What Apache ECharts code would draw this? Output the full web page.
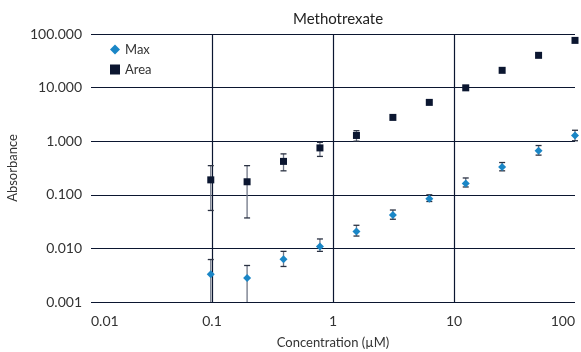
<!DOCTYPE html>
<html><head><meta charset="utf-8">
<script src="https://cdn.jsdelivr.net/npm/echarts@6/dist/echarts.min.js"></script>
<style>html,body{margin:0;padding:0;background:#fff}#c{width:581px;height:352px}</style>
</head><body><div id="c"></div>
<script>
const concentrations = [0.0977, 0.195, 0.39, 0.78, 1.5625, 3.125, 6.25, 12.5, 25, 50, 100];
const maxValues = [0.0033, 0.0028, 0.0063, 0.0108, 0.0207, 0.042, 0.0845, 0.163, 0.33, 0.66, 1.28];
const maxLow    = [0.001, 0.001, 0.0046, 0.0088, 0.017, 0.035, 0.075, 0.14, 0.28, 0.55, 1.02];
const maxHigh   = [0.0062, 0.0048, 0.0088, 0.015, 0.027, 0.052, 0.10, 0.206, 0.40, 0.83, 1.6];
const areaValues = [0.19, 0.175, 0.42, 0.75, 1.28, 2.78, 5.3, 9.9, 21, 40, 76];
const areaLow    = [0.051, 0.037, 0.28, 0.52, 1.0, null, null, null, null, null, null];
const areaHigh   = [0.35, 0.35, 0.58, 0.95, 1.57, null, null, null, null, null, null];
const xTicks = [0.01, 0.1, 1, 10, 100];
const yTicks = [0.001, 0.01, 0.1, 1, 10, 100];

const FONT = 'Lato';
const navy = '#0b1630';
const blue = '#1a86c6';

function errData(lo, hi) {
  const out = [];
  concentrations.forEach((c, i) => { if (lo[i] != null && hi[i] != null) out.push([c, lo[i], hi[i]]); });
  return out;
}
function renderErr(params, api) {
  const x = api.value(0), lo = api.value(1), hi = api.value(2);
  const pLo = api.coord([x, lo]), pHi = api.coord([x, hi]);
  const w = 3;
  const children = [
    { type: 'line', shape: { x1: pLo[0], y1: pLo[1], x2: pHi[0], y2: pHi[1] }, style: { stroke: '#6f7686', lineWidth: 1.3 } },
    { type: 'line', shape: { x1: pHi[0] - w, y1: pHi[1], x2: pHi[0] + w, y2: pHi[1] }, style: { stroke: '#2a3142', lineWidth: 1.3 } }
  ];
  if (lo > 0.001) children.push({ type: 'line', shape: { x1: pLo[0] - w, y1: pLo[1], x2: pLo[0] + w, y2: pLo[1] }, style: { stroke: '#2a3142', lineWidth: 1.3 } });
  return { type: 'group', children };
}

const chart = echarts.init(document.getElementById('c'), null, { renderer: 'canvas' });
chart.setOption({
  animation: false,
  textStyle: { fontFamily: FONT },
  title: { text: 'Methotrexate', left: 333, top: 7, textAlign: 'center',
    textStyle: { fontFamily: FONT, fontSize: 15, fontWeight: 'normal', color: '#222' } },
  legend: { orient: 'vertical', left: 105, top: 38, itemGap: 7, itemWidth: 10, itemHeight: 10,
    textStyle: { fontFamily: FONT, fontSize: 13, color: '#333' },
    data: [{ name: 'Max', icon: 'diamond' }, { name: 'Area', icon: 'rect' }] },
  grid: { left: 91, right: 6, top: 34, bottom: 50, containLabel: false, outerBoundsMode: 'none' },
  xAxis: {
    type: 'log', logBase: 10, min: xTicks[0], max: xTicks[xTicks.length - 1],
    name: 'Concentration (µM)', nameLocation: 'middle', nameGap: 34,
    nameTextStyle: { fontFamily: FONT, fontSize: 13, color: '#333' },
    axisLine: { show: false }, axisTick: { show: false },
    axisLabel: { fontFamily: FONT, fontSize: 14, color: '#333', margin: 12, alignMinLabel: 'left', alignMaxLabel: 'right',
      formatter: v => { const t = xTicks.find(k => Math.abs(k - v) / k < 1e-6); return t != null ? String(t) : ''; } },
    splitLine: { show: true, showMinLine: false, showMaxLine: false, lineStyle: { color: navy, width: 1.2 } }
  },
  yAxis: {
    type: 'log', logBase: 10, min: yTicks[0], max: yTicks[yTicks.length - 1],
    name: 'Absorbance', nameLocation: 'middle', nameGap: 59,
    nameTextStyle: { fontFamily: FONT, fontSize: 13, color: '#333' },
    axisLine: { show: false }, axisTick: { show: false },
    axisLabel: { fontFamily: FONT, fontSize: 14, color: '#333', margin: 9, formatter: v => v.toFixed(3) },
    splitLine: { show: true, lineStyle: { color: navy, width: 1.2 } }
  },
  series: [
    { type: 'custom', name: 'maxErr', renderItem: renderErr, data: errData(maxLow, maxHigh), encode: { x: 0, y: [1, 2] }, z: 2, silent: true },
    { type: 'custom', name: 'areaErr', renderItem: renderErr, data: errData(areaLow, areaHigh), encode: { x: 0, y: [1, 2] }, z: 2, silent: true },
    { type: 'scatter', name: 'Max', symbol: 'diamond', symbolSize: 8, itemStyle: { color: blue, opacity: 1 }, z: 3,
      data: concentrations.map((c, i) => [c, maxValues[i]]) },
    { type: 'scatter', name: 'Area', symbol: 'rect', symbolSize: 7, itemStyle: { color: navy, opacity: 1 }, z: 3,
      data: concentrations.map((c, i) => [c, areaValues[i]]) }
  ]
});
</script></body></html>
